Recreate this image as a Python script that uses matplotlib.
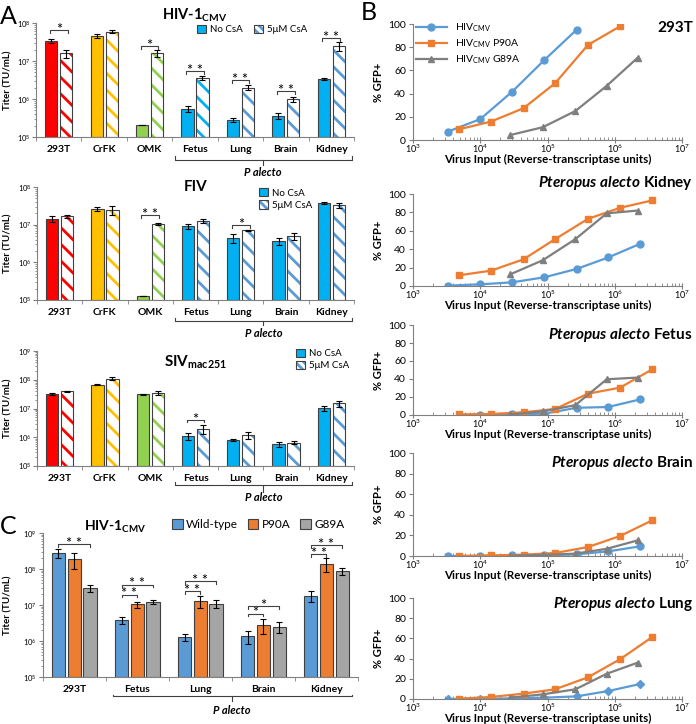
import numpy as np
import matplotlib
matplotlib.use('Agg')
import matplotlib.pyplot as plt
from matplotlib.patches import Patch
from matplotlib.ticker import LogLocator, NullFormatter, FixedLocator

plt.rcParams['font.family'] = ['Lato', 'DejaVu Sans']
plt.rcParams['mathtext.fontset'] = 'custom'
plt.rcParams['mathtext.rm'] = 'Lato'
plt.rcParams['mathtext.bf'] = 'Lato:bold'
plt.rcParams['mathtext.it'] = 'Lato:italic:bold'
plt.rcParams['hatch.linewidth'] = 2.0

W, H = 696, 724

# ---------------- panel A data (titer, TU/mL) ----------------
cells_a = ['293T', 'CrFK', 'OMK', 'Fetus', 'Lung', 'Brain', 'Kidney']
solid_a = ['#FF0000', '#FFC000', '#92D050', '#00B0F0', '#00B0F0', '#00B0F0', '#00B0F0']

hiv_no = [3.4e7, 4.6e7, 2.1e5, 5.5e5, 2.8e5, 3.6e5, 3.3e6]
hiv_no_err = [0.5e7, 0.6e7, 0.0, 1.0e5, 0.3e5, 0.6e5, 0.2e6]
hiv_csa = [1.6e7, 5.9e7, 1.6e7, 3.6e6, 2.0e6, 9.8e5, 2.5e7]
hiv_csa_err = [0.4e7, 0.6e7, 0.3e7, 0.4e6, 0.3e6, 1.5e5, 0.7e7]
hiv_stripe = ['#FF0000', '#FFC000', '#92D050', '#00B0F0', '#5B9BD5', '#5B9BD5', '#5B9BD5']
hiv_sig = [(0, 6.6e7, '*'), (2, 2.5e7, '*'), (3, 5.5e6, '* *'), (4, 3.2e6, '* *'),
           (5, 1.66e6, '* *'), (6, 4.1e7, '* *')]

fiv_no = [1.4e7, 2.6e7, 1.27e5, 9.1e6, 4.5e6, 3.7e6, 3.8e7]
fiv_no_err = [0.25e7, 0.3e7, 0.0, 1.5e6, 1.2e6, 0.8e6, 0.3e7]
fiv_csa = [1.65e7, 2.5e7, 1.07e7, 1.26e7, 7.1e6, 5.0e6, 3.3e7]
fiv_csa_err = [0.15e7, 0.7e7, 0.07e7, 0.15e7, 0.3e6, 1.0e6, 0.5e7]
fiv_stripe = ['#FF0000', '#FFC000', '#92D050', '#5B9BD5', '#5B9BD5', '#5B9BD5', '#5B9BD5']
fiv_sig = [(2, 1.8e7, '* *'), (4, 9.6e6, '*')]

siv_no = [3.3e7, 6.8e7, 3.1e7, 1.1e6, 8.0e5, 5.8e5, 1.05e7]
siv_no_err = [0.3e7, 0.3e7, 0.15e7, 0.3e6, 0.4e5, 1.2e5, 0.2e7]
siv_csa = [4.0e7, 1.1e8, 3.6e7, 2.0e6, 1.2e6, 6.5e5, 1.5e7]
siv_csa_err = [0.2e7, 0.1e8, 0.6e7, 0.7e6, 0.3e6, 0.8e5, 0.35e7]
siv_stripe = fiv_stripe
siv_sig = [(3, 4.0e6, '*')]

# ---------------- panel C data ----------------
cells_c = ['293T', 'Fetus', 'Lung', 'Brain', 'Kidney']
wt = [2.8e8, 3.8e6, 1.3e6, 1.4e6, 1.8e7]
wt_err = [0.8e8, 0.9e6, 0.3e6, 0.55e6, 0.6e7]
p90a = [1.9e8, 1.05e7, 1.3e7, 2.8e6, 1.4e8]
p90a_err = [0.9e8, 0.2e7, 0.5e7, 1.2e6, 0.6e8]
g89a = [2.9e7, 1.2e7, 1.1e7, 2.5e6, 8.7e7]
g89a_err = [0.6e7, 0.15e7, 0.3e7, 0.8e6, 2.0e7]
# (group, first bar, second bar, bracket height, label)
c_sig = [(0, 0, 2, 4.9e8, '* *'), (1, 0, 1, 1.95e7, '* *'), (1, 0, 2, 3.7e7, '* *'),
         (2, 0, 1, 2.4e7, '* *'), (2, 0, 2, 4.7e7, '* *'), (3, 0, 1, 5.8e6, '*'),
         (3, 0, 2, 9.4e6, '*'), (4, 0, 1, 2.6e8, '* *'), (4, 0, 2, 4.6e8, '* *')]

# ---------------- panel B data (% GFP+ vs virus input) ----------------
x_wt = [3.3e3, 1.0e4, 3.0e4, 9.0e4, 2.7e5, 8.0e5, 2.4e6]
x_p90 = [4.8e3, 1.45e4, 4.4e4, 1.3e5, 4.0e5, 1.2e6, 3.6e6]
x_g89 = [2.8e4, 8.5e4, 2.6e5, 7.6e5, 2.2e6]

gfp_293t = {'wt': [7.2, 18, 41.8, 69, 95], 'p90': [9.2, 15.9, 27.4, 49, 82, 98],
            'g89': [4.3, 11, 25, 46.7, 71]}
gfp_kidney = {'wt': [0.4, 1.8, 4, 9.5, 18.5, 31, 46], 'p90': [11.6, 16.7, 29, 51, 73, 85, 93],
              'g89': [12.7, 28, 51, 79, 82]}
gfp_fetus = {'wt': [0, 0.7, 1.5, 8, 8.9, 17.4], 'p90': [0.7, 1.1, 3, 6.7, 23.7, 30.4, 50.7],
             'g89': [0.7, 4, 11, 39.7, 41.6]}
gfp_brain = {'wt': [0, 0, 0.6, 0.6, 1.6, 4.5, 9.4], 'p90': [0, 0.6, 1.3, 2.9, 8.7, 19.4, 34.6],
             'g89': [0.3, 1, 2.3, 7, 15.2]}
gfp_lung = {'wt': [0, 0, 0.7, 1.3, 2.6, 7.9, 14.9], 'p90': [0.3, 2, 5.3, 9.6, 21.5, 39.4, 61.3],
            'g89': [1.3, 4.6, 9.6, 25, 36]}

EDGE = '#404040'


def rect(x0, x1, ytop, ybot):
    return [x0 / W, 1 - ybot / H, (x1 - x0) / W, (ybot - ytop) / H]


def log_axis(ax, ylim, ngroups):
    ax.set_yscale('log')
    ax.set_ylim(*ylim)
    ax.set_xlim(-0.5, ngroups - 0.5)
    for s in ['top', 'right']:
        ax.spines[s].set_visible(False)
    for s in ['left', 'bottom']:
        ax.spines[s].set_color('#808080')
        ax.spines[s].set_linewidth(0.8)
    ax.yaxis.set_minor_locator(LogLocator(subs=np.arange(2, 10)))
    ax.yaxis.set_minor_formatter(NullFormatter())
    ax.tick_params(axis='y', which='major', labelsize=5.5, length=3, color='#808080', pad=1)
    ax.tick_params(axis='y', which='minor', length=1.5, color='#808080')
    ax.xaxis.set_minor_locator(FixedLocator(np.arange(ngroups + 1) - 0.5))
    ax.tick_params(axis='x', which='minor', length=3, color='#808080')
    ax.set_ylabel('Titer (TU/mL)', fontsize=7, fontweight='bold')


def sig(ax, x1, x2, y, label):
    d = 10 ** 0.08
    ax.plot([x1, x1, x2, x2], [y / d, y, y, y / d], color=EDGE, lw=0.8, zorder=5)
    ax.annotate(label, xy=((x1 + x2) / 2, y), xytext=(0, -2.8), textcoords='offset points',
                ha='center', va='baseline', fontsize=10.5, zorder=5)


def brace(ax, x1, x2, yend, yline, ytip, ytext):
    tr = ax.get_xaxis_transform()
    ax.plot([x1, x1, x2, x2], [yend, yline, yline, yend], transform=tr,
            clip_on=False, color=EDGE, lw=0.8)
    xm = (x1 + x2) / 2
    ax.plot([xm, xm], [yline, ytip], transform=tr, clip_on=False, color=EDGE, lw=0.8)
    ax.text(xm, ytext, 'P alecto', transform=tr, ha='center', va='center',
            fontsize=8, fontweight='bold', fontstyle='italic')


def csa_panel(ax, no, no_err, csa, csa_err, stripe, sigs, ylim):
    x = np.arange(len(cells_a))
    w, off = 0.27, 0.165
    base = ylim[0]
    ax.bar(x - off, np.array(no) - base, w, bottom=base, color=solid_a,
           edgecolor=EDGE, linewidth=0.8, zorder=2)
    ax.bar(x + off, np.array(csa) - base, w, bottom=base, color='white',
           edgecolor=stripe, hatch=r'\\', linewidth=0, zorder=2)
    ax.bar(x + off, np.array(csa) - base, w, bottom=base, fill=False,
           edgecolor=EDGE, linewidth=0.8, zorder=3)
    ax.errorbar(x - off, no, yerr=no_err, fmt='none', ecolor='black', elinewidth=0.8,
                capsize=2.5, capthick=0.8, zorder=4)
    ax.errorbar(x + off, csa, yerr=csa_err, fmt='none', ecolor='black', elinewidth=0.8,
                capsize=2.5, capthick=0.8, zorder=4)
    for i, y, lab in sigs:
        sig(ax, i - off - 0.03, i + off + 0.03, y, lab)
    log_axis(ax, ylim, len(cells_a))
    ax.set_xticks(x)
    ax.set_xticklabels(cells_a, fontsize=7.5, fontweight='bold')
    ax.tick_params(axis='x', which='major', length=0, pad=6)


def csa_legend(ax, ncol, anchor, stripe):
    handles = [Patch(facecolor='#00B0F0', edgecolor=EDGE, lw=0.8),
               (Patch(facecolor='white', edgecolor=stripe, hatch=r'\\\\', lw=0),
                Patch(fill=False, edgecolor=EDGE, lw=0.8))]
    ax.legend(handles, ['No CsA', '5\u03bcM CsA'], ncol=ncol, loc='upper left',
              bbox_to_anchor=anchor, frameon=False, fontsize=7, handlelength=0.9,
              handleheight=0.9, handletextpad=0.4, columnspacing=1.2, borderpad=0,
              borderaxespad=0, labelspacing=0.3)


fig = plt.figure(figsize=(W / 100, H / 100), dpi=100)

# ---- A: HIV-1 CMV ----
ax1 = fig.add_axes(rect(36, 354, 23, 137))
csa_panel(ax1, hiv_no, hiv_no_err, hiv_csa, hiv_csa_err, hiv_stripe, hiv_sig, (1e5, 1e8))
ax1.yaxis.set_label_coords(-(36 - 12) / 318, 0.5)
ax1.text(0.5, 1.07, r'HIV-1$_{\mathbf{CMV}}$', transform=ax1.transAxes, ha='center',
         va='center', fontsize=10.5, fontweight='bold')
csa_legend(ax1, 2, (0.506, 0.985), '#5B9BD5')
brace(ax1, 2.55, 6.45, -0.167, -0.20, -0.245, -0.31)

# ---- A: FIV ----
ax2 = fig.add_axes(rect(37, 354, 187, 300))
csa_panel(ax2, fiv_no, fiv_no_err, fiv_csa, fiv_csa_err, fiv_stripe, fiv_sig, (1e5, 1e8))
ax2.yaxis.set_label_coords(-(37 - 12) / 317, 0.5)
ax2.text(0.5, 1.0, 'FIV', transform=ax2.transAxes, ha='center', va='center',
         fontsize=11, fontweight='bold')
csa_legend(ax2, 1, (0.70, 0.99), '#5B9BD5')
brace(ax2, 2.55, 6.45, -0.16, -0.186, -0.22, -0.30)

# ---- A: SIV mac251 ----
ax3 = fig.add_axes(rect(37, 354, 351, 466))
csa_panel(ax3, siv_no, siv_no_err, siv_csa, siv_csa_err, siv_stripe, siv_sig, (1e5, 1e9))
ax3.yaxis.set_label_coords(-(37 - 12) / 317, 0.5)
ax3.text(0.5, 0.905, r'SIV$_{\mathbf{mac251}}$', transform=ax3.transAxes, ha='center',
         va='center', fontsize=11, fontweight='bold')
csa_legend(ax3, 1, (0.817, 1.02), '#5B9BD5')
brace(ax3, 2.55, 6.45, -0.136, -0.168, -0.224, -0.275)

# ---- C: capsid mutants ----
ax4 = fig.add_axes(rect(42.7, 358, 533, 677))
xc = np.arange(len(cells_c))
wc, step = 0.21, 0.25
cols_c = ['#5B9BD5', '#ED7D31', '#A5A5A5']
for k, (vals, errs) in enumerate([(wt, wt_err), (p90a, p90a_err), (g89a, g89a_err)]):
    pos = xc + (k - 1) * step
    ax4.bar(pos, np.array(vals) - 1e5, wc, bottom=1e5, color=cols_c[k], edgecolor=EDGE,
            linewidth=0.8, zorder=2)
    ax4.errorbar(pos, vals, yerr=errs, fmt='none', ecolor='black', elinewidth=0.8,
                 capsize=2.5, capthick=0.8, zorder=4)
for g, a, b, y, lab in c_sig:
    sig(ax4, g + (a - 1) * step, g + (b - 1) * step, y, lab)
log_axis(ax4, (1e5, 1e9), len(cells_c))
ax4.set_xticks(xc)
ax4.set_xticklabels(cells_c, fontsize=7.5, fontweight='bold')
ax4.tick_params(axis='x', which='major', length=0, pad=6)
ax4.yaxis.set_label_coords(-(42.7 - 12) / 315.3, 0.5)
ax4.text(0.23, 1.045, r'HIV-1$_{\mathbf{CMV}}$', transform=ax4.transAxes, ha='center',
         va='center', fontsize=10, fontweight='bold')
ax4.legend([Patch(facecolor=c, edgecolor=EDGE, lw=0.8) for c in cols_c],
           ['Wild-type', 'P90A', 'G89A'], ncol=3, loc='upper left',
           bbox_to_anchor=(0.41, 1.095), frameon=False, fontsize=8.5, handlelength=0.9,
           handleheight=0.9, handletextpad=0.3, columnspacing=0.8, borderpad=0,
           borderaxespad=0)
brace(ax4, 0.61, 4.4, -0.125, -0.135, -0.17, -0.23)

# ---- B: GFP titration curves ----
b_panels = [(gfp_293t, '293T', 24, 140, 0.965, 'o'),
            (gfp_kidney, 'Kidney', 194, 286, 1.12, 'o'),
            (gfp_fetus, 'Fetus', 325, 415, 0.89, 'o'),
            (gfp_brain, 'Brain', 453, 556, 0.906, 'o'),
            (gfp_lung, 'Lung', 598, 699, 0.94, 'D')]
for data, name, ytop, ybot, ty, wt_marker in b_panels:
    ax = fig.add_axes(rect(413, 682, ytop, ybot))
    n_wt = len(data['wt'])
    xw = x_wt[:n_wt] if name != 'Fetus' else x_wt[1:]
    ax.plot(xw, data['wt'], color='#5B9BD5', marker=wt_marker, ms=5 if wt_marker == 'o' else 4,
            lw=1.6, label=r'HIV$_{\mathregular{CMV}}$')
    ax.plot(x_p90[:len(data['p90'])], data['p90'], color='#ED7D31', marker='s', ms=5, lw=1.6,
            label=r'HIV$_{\mathregular{CMV}}$ P90A')
    ax.plot(x_g89[:len(data['g89'])], data['g89'], color='#7F7F7F', marker='^', ms=5, lw=1.6,
            label=r'HIV$_{\mathregular{CMV}}$ G89A')
    ax.set_xscale('log')
    ax.set_xlim(1e3, 1e7)
    ax.set_ylim(0, 100)
    ax.set_yticks(np.arange(0, 101, 20))
    for s in ['top', 'right']:
        ax.spines[s].set_visible(False)
    for s in ['left', 'bottom']:
        ax.spines[s].set_color('#808080')
        ax.spines[s].set_linewidth(0.8)
    ax.xaxis.set_minor_locator(LogLocator(subs=np.arange(2, 10)))
    ax.xaxis.set_minor_formatter(NullFormatter())
    ax.tick_params(axis='x', which='major', direction='inout', length=4, labelsize=6.5,
                   color='#808080', pad=0)
    ax.tick_params(axis='x', which='minor', direction='in', length=2, color='#808080')
    ax.tick_params(axis='y', labelsize=7.5, length=3, color='#808080', pad=2)
    ax.set_xlabel('Virus Input (Reverse-transcriptase units)', fontsize=8.3,
                  fontweight='bold', labelpad=-1)
    ax.set_ylabel('% GFP+', fontsize=8, fontweight='bold', labelpad=3)
    if name == '293T':
        ax.text(1.04, ty, '293T', transform=ax.transAxes, ha='right', va='center',
                fontsize=11, fontweight='bold')
        ax.legend(loc='upper left', bbox_to_anchor=(0.01, 1.02), frameon=False, fontsize=7.5,
                  handlelength=3.0, labelspacing=0.35, borderpad=0, borderaxespad=0)
    else:
        ax.text(1.04, ty, r'$\it{Pteropus\ alecto}$ ' + name, transform=ax.transAxes,
                ha='right', va='center', fontsize=11, fontweight='bold')

fig.text(8 / W, 1 - 16 / H, 'A', fontsize=18, ha='center', va='center')
fig.text(369 / W, 1 - 12 / H, 'B', fontsize=18, ha='center', va='center')
fig.text(8 / W, 1 - 526 / H, 'C', fontsize=18, ha='center', va='center')

fig.savefig('out.png', dpi=100)
